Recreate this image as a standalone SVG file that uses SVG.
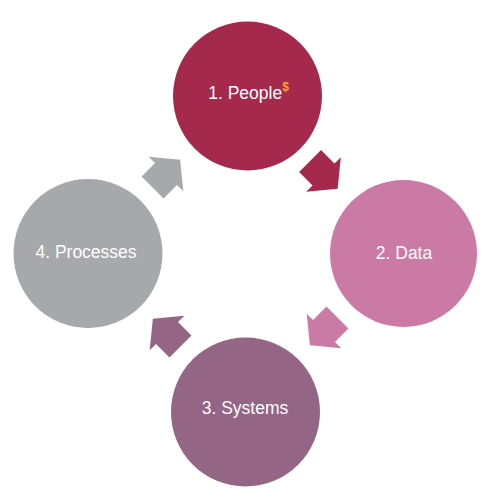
<svg xmlns="http://www.w3.org/2000/svg" width="497" height="502" viewBox="0 0 497 502">
<defs>
<style>
.lbl{font-family:"Liberation Sans",Arial,sans-serif;font-size:17.5px;fill:#ffffff;text-anchor:middle}
.sup{font-size:12px;font-weight:bold;fill:#F5A623}
</style>
<path id="blk" d="M-19,-15.5 L0,-15.5 L0,-24.5 L20,0 L0,24.5 L0,15.5 L-19,15.5 Z"/>
</defs>
<rect width="497" height="502" fill="#ffffff"/>
<g id="connectors">
<use href="#blk" fill="#A5294D" transform="translate(323.5,174.5) rotate(45)"/>
<use href="#blk" fill="#CB7AA6" transform="translate(324,331) rotate(135)"/>
<use href="#blk" fill="#946584" transform="translate(167,333) rotate(225)"/>
<use href="#blk" fill="#A7A8AB" transform="translate(166,174) rotate(-45)"/>
</g>
<g id="people">
<circle cx="247.5" cy="96" r="74.5" fill="#A5294D"/>
<text class="lbl" x="248.5" y="99">1. People<tspan class="sup" dy="-8">$</tspan></text>
</g>
<g id="data">
<circle cx="403.5" cy="253.5" r="73.5" fill="#CB7AA6"/>
<text class="lbl" x="404" y="259">2. Data</text>
</g>
<g id="systems">
<circle cx="245.5" cy="412" r="74.5" fill="#946584"/>
<text class="lbl" x="245" y="414">3. Systems</text>
</g>
<g id="processes">
<circle cx="88" cy="253.5" r="74.5" fill="#A7A8AB"/>
<text class="lbl" x="86" y="258">4. Processes</text>
</g>
</svg>
